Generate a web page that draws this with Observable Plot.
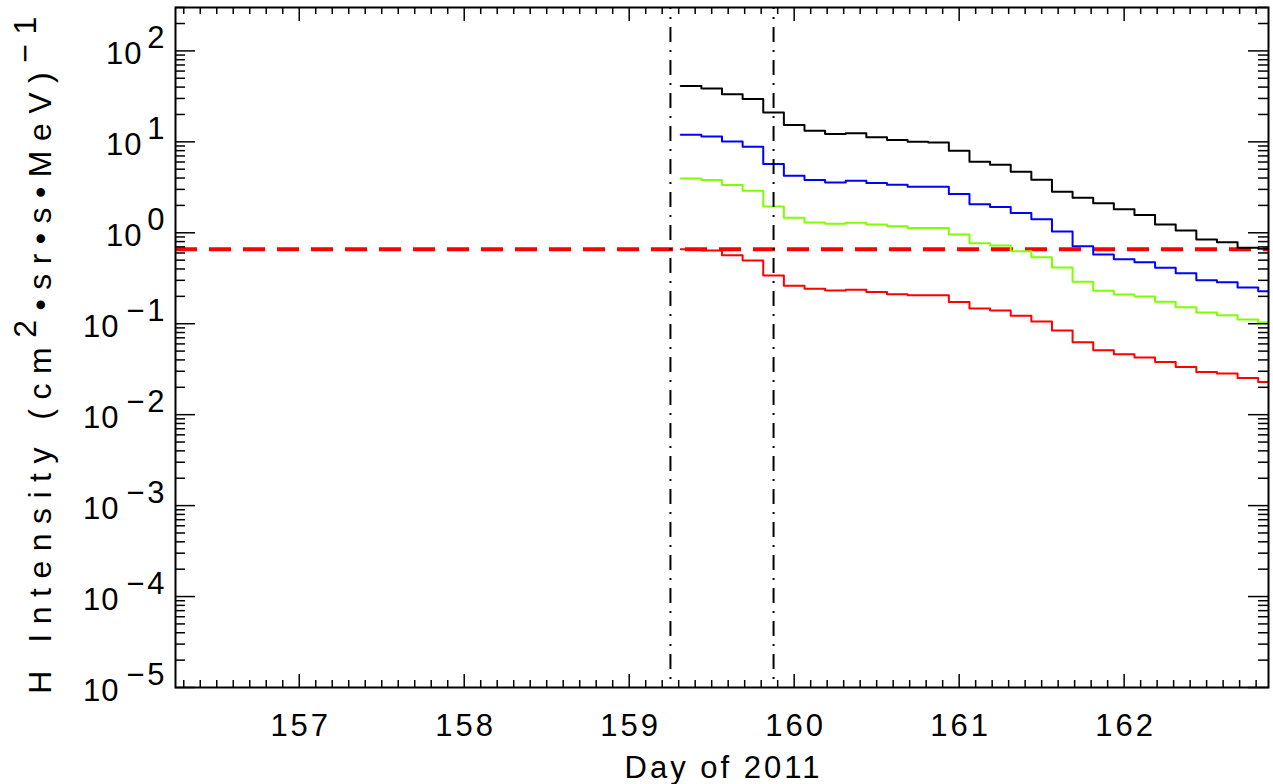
<!DOCTYPE html>
<html><head><meta charset="utf-8">
<script src="https://cdn.jsdelivr.net/npm/d3@7"></script>
<script src="https://cdn.jsdelivr.net/npm/@observablehq/plot@0.6"></script>
<style>
body{margin:0;background:#fff;}
svg{display:block;}
</style>
</head><body><div id="chart"></div>
<script>
// Bin centre times (Day of 2011), 3-hour cadence
const times = [159.375,159.5,159.625,159.75,159.875,160.0,160.125,160.25,160.375,160.5,160.625,160.75,160.875,161.0,161.125,161.25,161.375,161.5,161.625,161.75,161.875,162.0,162.125,162.25,162.375,162.5,162.625,162.75,162.875];
const blackSeries = [41.2,38.5,33.4,29.5,21.0,15.3,13.2,12.2,12.4,11.2,10.5,10.0,9.85,7.98,6.04,5.60,4.70,3.84,2.83,2.42,2.11,1.81,1.57,1.23,1.06,0.842,0.787,0.683,0.666];
const blueSeries = [11.96,11.46,10.1,8.83,5.70,4.24,3.81,3.58,3.74,3.53,3.38,3.21,3.21,2.67,2.06,1.92,1.65,1.41,1.03,0.711,0.576,0.512,0.475,0.412,0.360,0.301,0.286,0.250,0.228];
const greenSeries = [3.96,3.81,3.35,2.90,1.94,1.46,1.30,1.26,1.29,1.23,1.18,1.13,1.13,0.955,0.767,0.724,0.627,0.538,0.415,0.289,0.230,0.210,0.1995,0.174,0.152,0.133,0.124,0.111,0.103];
const redSeries = [0.659,0.638,0.566,0.495,0.339,0.261,0.242,0.232,0.236,0.223,0.211,0.205,0.205,0.173,0.147,0.140,0.1225,0.106,0.0845,0.0624,0.0510,0.0461,0.0424,0.0379,0.0334,0.0294,0.0283,0.0253,0.0229];
const seriesNames = ["ch1","ch2","ch3","ch4"];
const seriesColors = ["#000000","#0000ff","#7fff00","#ff0000"];
const threshold = [0.66];
const eventDays = [159.25, 159.875];

const xDomain = [156.25, 162.875];
const yDomain = [1e-5, 300];
const xMajor = [157,158,159,160,161,162];
const xLabels = ["157","158","159","160","161","162"];
const yMajor = [1e-5,1e-4,1e-3,1e-2,1e-1,1,10,100];
const yBase = "10";
const yExponents = ["−5","−4","−3","−2","−1","0","1","2"];
const xTitle = "Day of 2011";
const yTitle = "H Intensity (cm^2^•sr•s•MeV)^−1";

// minor ticks
const xMinor = [];
for (let k = Math.ceil(xDomain[0]*10); k <= Math.floor(xDomain[1]*10); k++) if (k % 10) xMinor.push(k/10);
const yMinor = [];
for (let e = -5; e <= 2; e++) for (let m = 2; m <= 9; m++) { const v = m*Math.pow(10,e); if (v <= yDomain[1]) yMinor.push(v); }

const W = 1273, H = 784, mL = 175, mR = 5, mT = 7, mB = 97;
const pw = W - mL - mR, ph = H - mT - mB;

const allSeries = [blackSeries, blueSeries, greenSeries, redSeries];
const half = (times[1] - times[0]) / 2;
const lineData = [];
allSeries.forEach((vals, s) => {
  times.forEach((t, i) => lineData.push({x: t - half, y: vals[i], s: seriesNames[s]}));
  lineData.push({x: times[times.length-1] + half, y: vals[vals.length-1], s: seriesNames[s]});
});

const font = "Liberation Sans, Arial, Helvetica, sans-serif";
const tk = {stroke: "black", strokeWidth: 1.5};
const expData = yMajor.map((v, i) => ({v, e: yExponents[i]}));

const svg = Plot.plot({
  width: W, height: H,
  marginLeft: mL, marginRight: mR, marginTop: mT, marginBottom: mB,
  style: {fontFamily: font, background: "white"},
  x: {domain: xDomain, axis: null},
  y: {type: "log", domain: yDomain, axis: null},
  color: {domain: seriesNames, range: seriesColors},
  marks: [
    Plot.ruleY(threshold, {y: d => d, stroke: "#ff0000", strokeWidth: 4, strokeDasharray: "22,12"}),
    Plot.line(lineData, {x: "x", y: "y", z: "s", stroke: "s", curve: "step-after", strokeWidth: 2, clip: true}),
    Plot.ruleX(eventDays, {x: d => d, stroke: "black", strokeWidth: 2, strokeDasharray: "15,8,2,8", strokeDashoffset: 13}),
    // y ticks left & right
    Plot.tickY(yMajor, {y: d => d, insetRight: pw - 20, ...tk}),
    Plot.tickY(yMinor, {y: d => d, insetRight: pw - 10, ...tk}),
    Plot.tickY(yMajor, {y: d => d, insetLeft: pw - 20, ...tk}),
    Plot.tickY(yMinor, {y: d => d, insetLeft: pw - 10, ...tk}),
    // x ticks bottom & top
    Plot.tickX(xMajor, {x: d => d, insetTop: ph - 13, ...tk}),
    Plot.tickX(xMinor, {x: d => d, insetTop: ph - 7, ...tk}),
    Plot.tickX(xMajor, {x: d => d, insetBottom: ph - 14, ...tk}),
    Plot.tickX(xMinor, {x: d => d, insetBottom: ph - 7, ...tk}),
    Plot.frame({stroke: "black", strokeWidth: 2}),
    // [0] x tick labels
    Plot.text(xMajor, {x: d => d, text: (d, i) => xLabels[i], frameAnchor: "bottom", lineAnchor: "bottom", dy: 48, dx: 1.5, fontSize: 31, fill: "black"}),
    // [1] y exponents
    Plot.text(expData, {y: "v", text: "e", frameAnchor: "left", textAnchor: "end", lineAnchor: "bottom", dx: -8, dy: -3, fontSize: 31, fill: "black"}),
    // [2] y base (non-negative exponents)
    Plot.text(expData.filter(d => d.v >= 1), {y: "v", text: () => yBase, frameAnchor: "left", textAnchor: "end", lineAnchor: "bottom", dx: -33, dy: 13.5, fontSize: 31, fill: "black"}),
    // [3] y base (negative exponents)
    Plot.text(expData.filter(d => d.v < 1), {y: "v", text: () => yBase, frameAnchor: "left", textAnchor: "end", lineAnchor: "bottom", dx: -56, dy: 13.5, fontSize: 31, fill: "black"}),
    // [4] x title
    Plot.text([xTitle], {text: d => d, frameAnchor: "bottom", lineAnchor: "bottom", dy: 90, dx: 1.5, fontSize: 31, fill: "black"}),
    // [5] y title
    Plot.text([yTitle], {text: d => d, frameAnchor: "left", textAnchor: "middle", rotate: -90, lineAnchor: "bottom", dx: -125, dy: 3, fontSize: 32, fill: "black"})
  ]
});

// text groups in mark order
const tg = d3.select(svg).selectAll('g[aria-label="text"]').nodes();
d3.select(tg[0]).selectAll("text").style("letter-spacing", "3px");
d3.select(tg[1]).selectAll("text").style("letter-spacing", "3px");
d3.select(tg[2]).selectAll("text").style("letter-spacing", "1px");
d3.select(tg[3]).selectAll("text").style("letter-spacing", "1px");
d3.select(tg[4]).selectAll("text").style("letter-spacing", "3px");
d3.select(tg[5]).selectAll("text").style("letter-spacing", "9.5px");

// superscripts in the y title
d3.select(tg[5]).selectAll("text").each(function() {
  const parts = this.textContent.split("^");
  const t = d3.select(this);
  t.text(null);
  parts.forEach((p, i) => {
    const ts = t.append("tspan").text(p);
    if (i > 0) ts.attr("dy", (i % 2 ? -15 : 15));
  });
});

document.getElementById("chart").appendChild(svg);
</script>
</body></html>
